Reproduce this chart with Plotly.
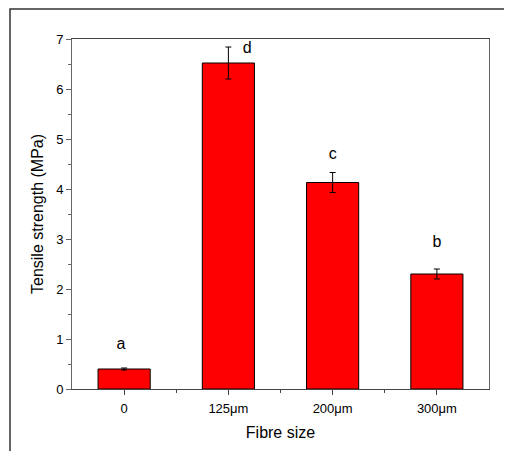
import plotly.graph_objects as go

categories = ["0", "125μm", "200μm", "300μm"]
strength = [0.40, 6.52, 4.13, 2.30]
errors = [0.02, 0.32, 0.20, 0.10]
letters = ["a", "d", "c", "b"]
letter_y = [0.88, 6.80, 4.68, 2.93]
letter_dx = [-0.03, 0.18, 0, 0]
y_ticks = [0, 1, 2, 3, 4, 5, 6, 7]

xpos = list(range(len(categories)))
font = "Liberation Sans, Arial, sans-serif"

W, H = 504, 443
L, R, T, B = 64, 23, 31, 62
pw, ph = W - L - R, H - T - B

fig = go.Figure()
fig.add_trace(go.Bar(
    x=xpos, y=strength, width=0.5,
    marker=dict(color="#ff0000", line=dict(color="black", width=1)),
    error_y=dict(type="data", array=errors, color="black", thickness=1, width=3),
    showlegend=False,
))
fig.add_trace(go.Scatter(
    x=[x + d for x, d in zip(xpos, letter_dx)], y=letter_y, mode="text", text=letters,
    textfont=dict(family=font, size=16, color="black"), showlegend=False,
))

fig.update_layout(
    width=W, height=H,
    margin=dict(l=L, r=R, t=T, b=B),
    plot_bgcolor="white", paper_bgcolor="white",
    font=dict(family=font, color="black"),
    xaxis=dict(
        range=[-0.5, 3.5], tickmode="array", tickvals=xpos, ticktext=categories,
        ticks="outside", ticklen=5, tickcolor="#444", showline=True, linecolor="#444",
        linewidth=1, mirror=True, showgrid=False, zeroline=False,
        minor=dict(tickvals=[0.5, 1.5, 2.5], ticks="outside", ticklen=3, tickcolor="#444"),
        tickfont=dict(size=13), ticklabelstandoff=2,
        title=dict(text="Fibre size", font=dict(size=16), standoff=12),
    ),
    yaxis=dict(
        range=[0, 7], tickmode="array", tickvals=y_ticks,
        ticks="outside", ticklen=5, tickcolor="#666", showline=True, linecolor="#666",
        linewidth=1, mirror=True, showgrid=False, zeroline=False,
        minor=dict(dtick=0.5, ticks="outside", ticklen=3, tickcolor="#666"),
        tickfont=dict(size=13),
        title=dict(text="Tensile strength (MPa)", font=dict(size=16), standoff=8),
    ),
    shapes=[dict(type="rect", xref="paper", yref="paper",
                 x0=(2 - L) / pw, x1=(W + 10 - L) / pw,
                 y0=(T + ph - (H + 10)) / ph, y1=(T + ph - 1) / ph,
                 line=dict(color="#333", width=1.5), layer="below")],
)

fig.write_html("out.html")
